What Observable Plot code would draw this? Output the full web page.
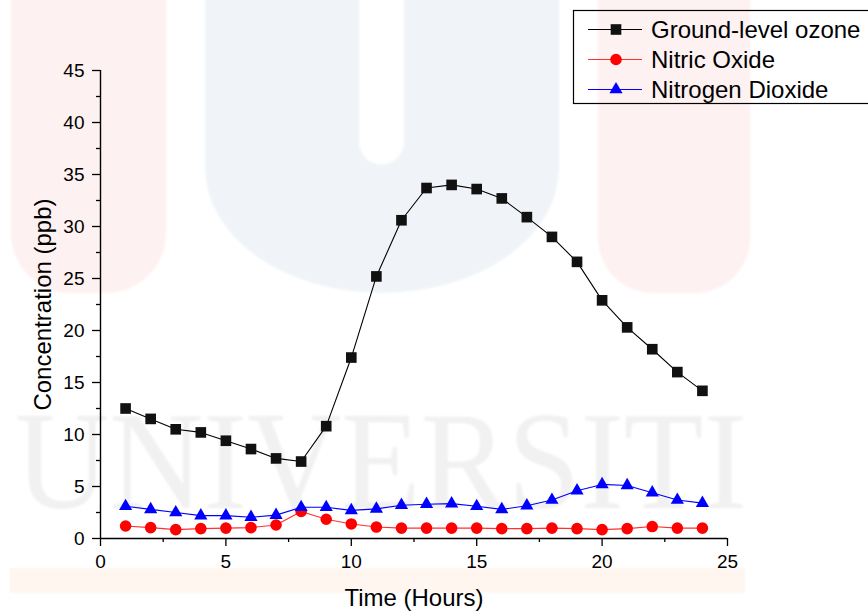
<!DOCTYPE html>
<html>
<head>
<meta charset="utf-8">
<script src="https://cdn.jsdelivr.net/npm/d3@7"></script>
<script src="https://cdn.jsdelivr.net/npm/@observablehq/plot@0.6"></script>
<style>
  body { margin: 0; background: #fff; }
  #chart {
    position: relative; width: 868px; height: 613px; overflow: hidden;
    font-family: "Liberation Sans", Arial, sans-serif;
  }
  #chart > svg { position: absolute; left: 0; top: 0; }
</style>
</head>
<body>
<div id="chart"></div>
<script>
// Hourly mean concentrations (ppb)
const hours = [1, 2, 3, 4, 5, 6, 7, 8, 9, 10, 11, 12, 13, 14, 15, 16, 17, 18, 19, 20, 21, 22, 23, 24];
const ozone = [12.5, 11.5, 10.5, 10.2, 9.4, 8.6, 7.7, 7.4, 10.8, 17.4, 25.2, 30.6, 33.7, 34.0, 33.6, 32.7, 30.9, 29.0, 26.6, 22.9, 20.3, 18.2, 16.0, 14.2];
const nitricOxide = [1.2, 1.05, 0.85, 0.95, 1.0, 1.05, 1.3, 2.6, 1.85, 1.4, 1.1, 1.0, 1.0, 1.0, 1.0, 0.95, 0.95, 1.0, 0.95, 0.85, 0.95, 1.15, 1.0, 1.0];
const nitrogenDioxide = [3.1, 2.8, 2.5, 2.2, 2.2, 2.05, 2.25, 3.0, 3.0, 2.7, 2.85, 3.2, 3.3, 3.35, 3.1, 2.8, 3.15, 3.7, 4.6, 5.2, 5.1, 4.4, 3.7, 3.4];

const seriesNames = ["Ground-level ozone", "Nitric Oxide", "Nitrogen Dioxide"];
const xTicks = [0, 5, 10, 15, 20, 25];
const xMinorTicks = [2.5, 7.5, 12.5, 17.5, 22.5];
const yTicks = [0, 5, 10, 15, 20, 25, 30, 35, 40, 45];
const yMinorTicks = [2.5, 7.5, 12.5, 17.5, 22.5, 27.5, 32.5, 37.5, 42.5];
const xTitle = "Time (Hours)";
const yTitle = "Concentration (ppb)";

// Per-series styling: line colour, marker fill, marker symbol, marker radius
const styles = [
  { line: "#000000", fill: "#111111", symbol: "square", r: 6 },
  { line: "#ff3030", fill: "#ff0000", symbol: "circle", r: 5.8 },
  { line: "#0000ff", fill: "#0000ff", symbol: "triangle", r: 4.9 }
];

const valuesBySeries = [ozone, nitricOxide, nitrogenDioxide];
const rows = valuesBySeries.map((vals, s) =>
  hours.map((h, i) => ({ hour: h, value: vals[i], series: seriesNames[s] }))
);

const W = 868, H = 613;
const chart = document.getElementById("chart");

// Faint background emblem and lettering
const bg = d3.create("svg").attr("width", W).attr("height", H);
const defs = bg.append("defs");
defs.append("filter").attr("id", "soft").append("feGaussianBlur").attr("stdDeviation", 1.2);
const g = bg.append("g").attr("filter", "url(#soft)");
g.append("path").attr("fill", "#fef1f1")
  .attr("d", "M11,-10 V233 A60,60 0 0 0 71,293 H106 A60,60 0 0 0 166,233 V-10 Z");
g.append("path").attr("fill", "#fef1f1")
  .attr("d", "M598,-10 V238 A55,55 0 0 0 653,293 H695 A55,55 0 0 0 750,238 V-10 Z");
g.append("path").attr("fill", "#f0f4f8")
  .attr("d", "M205,-10 V168 A177,125 0 0 0 559,168 V-10 Z");
g.append("path").attr("fill", "#ffffff")
  .attr("d", "M359,-10 V142 A22.5,22.5 0 0 0 404,142 V-10 Z");
g.append("text")
  .attr("x", 15).attr("y", 508)
  .attr("textLength", 732).attr("lengthAdjust", "spacingAndGlyphs")
  .attr("font-family", "'Liberation Serif', 'DejaVu Serif', serif")
  .attr("font-size", 139)
  .attr("fill", "#f1f1f1")
  .text("UNIVERSITI");
g.append("rect").attr("x", 10).attr("y", 568).attr("width", 735).attr("height", 25).attr("fill", "#fff6f0");
chart.appendChild(bg.node());

// Main chart
const marks = [
  Plot.axisX({ ticks: xTicks, tickSize: 8, tickPadding: 8, fontSize: 19, strokeWidth: 1.3, label: null }),
  Plot.axisX({ ticks: xMinorTicks, tickSize: 4, text: null, strokeWidth: 1.3, label: null }),
  Plot.axisY({ ticks: yTicks, tickSize: 8, tickPadding: 8, fontSize: 19, strokeWidth: 1.3, label: null }),
  Plot.axisY({ ticks: yMinorTicks, tickSize: 4, text: null, strokeWidth: 1.3, label: null }),
  Plot.ruleY([0], { stroke: "#000", strokeWidth: 1.4 }),
  Plot.ruleX([0], { stroke: "#000", strokeWidth: 1.4 })
];
rows.forEach((data, s) => {
  const st = styles[s];
  marks.push(Plot.line(data, { x: "hour", y: "value", stroke: st.line, strokeWidth: 1.1 }));
  marks.push(Plot.dot(data, { x: "hour", y: "value", symbol: () => st.symbol, fill: st.fill, stroke: "none", r: st.r }));
});
marks.push(
  Plot.text([xTitle], { frameAnchor: "bottom", dy: 60, fontSize: 24, lineAnchor: "middle", textAnchor: "middle", fill: "#000" }),
  Plot.text([yTitle], { frameAnchor: "left", dx: -57, rotate: -90, fontSize: 24, lineAnchor: "middle", textAnchor: "middle", fill: "#000" })
);

const plot = Plot.plot({
  width: W, height: H,
  marginLeft: 100, marginRight: 141, marginTop: 70, marginBottom: 75,
  style: { background: "transparent", fontFamily: "'Liberation Sans', Arial, sans-serif", color: "#000", overflow: "visible" },
  x: { domain: [0, 25] },
  y: { domain: [0, 45] },
  symbol: { type: "identity" },
  marks
});
chart.appendChild(plot);

// Legend box in the top-right corner
const lg = d3.create("svg").attr("width", W).attr("height", H).style("pointer-events", "none");
lg.append("rect").attr("x", 573.5).attr("y", 10.5).attr("width", 320).attr("height", 93)
  .attr("fill", "none").attr("stroke", "#000").attr("stroke-width", 1.2);
const symbolTypes = { square: d3.symbolSquare, circle: d3.symbolCircle, triangle: d3.symbolTriangle };
seriesNames.forEach((name, s) => {
  const st = styles[s];
  const cy = 29.5 + s * 30;
  lg.append("line").attr("x1", 588).attr("x2", 642).attr("y1", cy).attr("y2", cy)
    .attr("stroke", st.line).attr("stroke-width", 1.1);
  lg.append("path")
    .attr("transform", `translate(616,${cy})`)
    .attr("d", d3.symbol(symbolTypes[st.symbol], Math.PI * st.r * st.r)())
    .attr("fill", st.fill);
  lg.append("text").attr("x", 651).attr("y", cy + 8.5)
    .attr("font-family", "'Liberation Sans', Arial, sans-serif").attr("font-size", 24)
    .attr("fill", "#000").text(name);
});
chart.appendChild(lg.node());
</script>
</body>
</html>
